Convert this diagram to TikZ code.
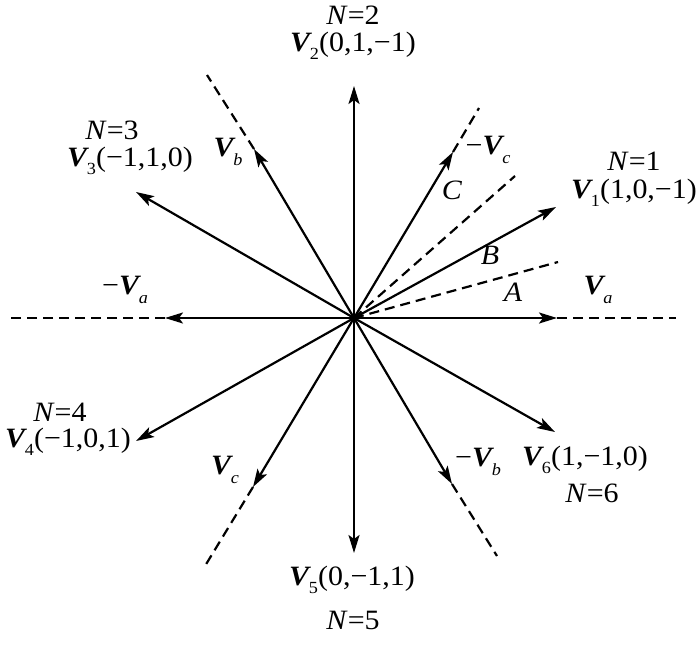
\documentclass[tikz,border=0pt]{standalone}
\usepackage{fontspec}
\setmainfont{Liberation Serif}
\newfontfamily\lblfont[FakeStretch=1.07]{Liberation Serif}
\usetikzlibrary{arrows.meta}
\newcommand{\VV}[1]{\textbf{\textit{V}}\kern-0.08em\raisebox{-0.3em}{\fontsize{17}{17}\selectfont #1}}
\tikzset{
  vecline/.style={line width=2.2pt, -{Stealth[length=18pt,width=11pt,inset=4pt]}},
  dashline/.style={line width=2.2pt, dash pattern=on 10pt off 6pt},
  lbl/.style={inner sep=0pt, font=\lblfont\fontsize{28}{32}\selectfont}
}
\begin{document}
\begin{tikzpicture}[x=1pt,y=-1pt]
\useasboundingbox (0,0) rectangle (700,644);
\coordinate (O) at (354,318);
% vector tips
\coordinate (t1) at (556,207);
\coordinate (t2) at (354,86);
\coordinate (t3) at (136,192);
\coordinate (t4) at (136,441);
\coordinate (t5) at (354,553);
\coordinate (t6) at (555,432);
\coordinate (ta) at (557,318);
\coordinate (tma) at (165,318);
\coordinate (tb) at (254,149);
\coordinate (tmb) at (452,484);
\coordinate (tc) at (253,487);
\coordinate (tmc) at (453,152);
% dashed ends
\coordinate (ea) at (676,318);
\coordinate (ema) at (8,318);
\coordinate (eb) at (207,75);
\coordinate (emb) at (497,556);
\coordinate (ec) at (205,566);
\coordinate (emc) at (479,108);
\coordinate (dA) at (558,262);
\coordinate (dB) at (515,176);
% solid vectors
\foreach \t in {t1,t2,t3,t4,t5,t6,ta,tma,tb,tmb,tc,tmc}
  \draw[vecline] (O) -- (\t);
% dashed extensions
\draw[dashline] (ta) -- (ea);
\draw[dashline] (tma) -- (ema);
\draw[dashline] (tb) -- (eb);
\draw[dashline] (tmb) -- (emb);
\draw[dashline] (tc) -- (ec);
\draw[dashline] (tmc) -- (emc);
\draw[dashline] (O) -- (dA);
\draw[dashline] (O) -- (dB);
\fill (O) circle (3.5pt);
% labels
\node[lbl] (n2) at (353,15) {\textit{N}=2};
\node[lbl] (v2) at (353,46) {\VV{2}(0,1,−1)};
\node[lbl] (n1) at (634,161) {\textit{N}=1};
\node[lbl] (v1) at (634,193) {\VV{1}(1,0,−1)};
\node[lbl] (n3) at (112,130) {\textit{N}=3};
\node[lbl] (v3) at (130,161) {\VV{3}(−1,1,0)};
\node[lbl] (n4) at (60,412) {\textit{N}=4};
\node[lbl] (v4) at (68,442) {\VV{4}(−1,0,1)};
\node[lbl] (v5) at (352,580) {\VV{5}(0,−1,1)};
\node[lbl] (n5) at (353,620) {\textit{N}=5};
\node[lbl] (v6) at (585,460) {\VV{6}(1,−1,0)};
\node[lbl] (n6) at (592,493) {\textit{N}=6};
\node[lbl] (la) at (598,290) {\VV{\textit{a}}};
\node[lbl] (lma) at (125,290) {−\VV{\textit{a}}};
\node[lbl] (lb) at (228,152) {\VV{\textit{b}}};
\node[lbl] (lmb) at (478,462) {−\VV{\textit{b}}};
\node[lbl] (lc) at (225,470) {\VV{\textit{c}}};
\node[lbl] (lmc) at (488,150) {−\VV{\textit{c}}};
\node[lbl] (A) at (513,292) {\textit{A}};
\node[lbl] (B) at (490,255) {\textit{B}};
\node[lbl] (C) at (452,190) {\textit{C}};
\end{tikzpicture}
\end{document}
